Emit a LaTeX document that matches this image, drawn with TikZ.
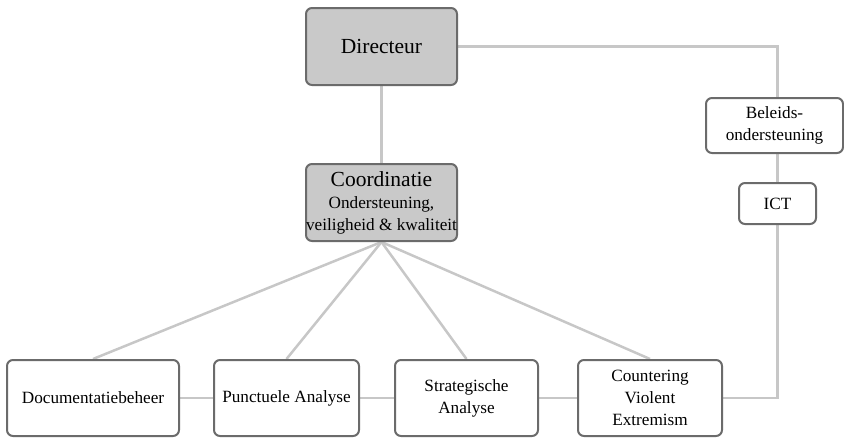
\documentclass[tikz,border=0pt]{standalone}
\usepackage{fontspec}
\setmainfont{Liberation Serif}
\usetikzlibrary{backgrounds}
\begin{document}
\begin{tikzpicture}[x=1pt,y=-1pt,
  box/.style={draw=black!58, line width=2pt, rounded corners=6pt, fill=white, align=center, inner sep=0pt, font=\fontsize{17.2}{22}\selectfont},
  gbox/.style={box, fill=black!21},
  big/.style={font=\fontsize{21.5}{24}\selectfont},
  link/.style={draw=black!22, line width=2.5pt}]
\useasboundingbox (0,0) rectangle (844,437);
% nodes
\node[gbox, big, minimum width=151pt, minimum height=77pt] (dir) at (381.5,46.5) {Directeur};
\node[gbox, minimum width=151pt, minimum height=77pt] (coord) at (381.5,202.5) {{\fontsize{21.5}{24}\selectfont Coordinatie}\\Ondersteuning,\\veiligheid \& kwaliteit};
\node[box, minimum width=137pt, minimum height=55pt] (bel) at (774.5,125.5) {Beleids-\\ondersteuning};
\node[box, minimum width=77pt, minimum height=41pt] (ict) at (777.5,203.5) {ICT};
\node[box, minimum width=172pt, minimum height=76pt] (doc) at (93,398) {Documentatiebeheer};
\node[box, minimum width=145pt, minimum height=76pt] (pun) at (286.5,398) {Punctuele Analyse};
\node[box, minimum width=143pt, minimum height=76pt] (str) at (466.5,398) {Strategische\\Analyse};
\node[box, minimum width=144pt, minimum height=76pt] (cve) at (650,398) {Countering\\Violent\\Extremism};
\coordinate (c1) at (777.5,46.5);
\coordinate (c2) at (777.5,398);
% connectors behind the boxes
\begin{pgfonlayer}{background}
\path[link] (dir.south) -- (coord.north);
\path[link] (dir.east) -- (c1) -- (bel.north -| c1);
\path[link] (bel.south -| ict.north) -- (ict.north);
\path[link] (ict.south) -- (c2) -- (cve.east);
\path[link] (coord.south) -- (doc.north);
\path[link] (coord.south) -- (pun.north);
\path[link] (coord.south) -- (str.north);
\path[link] (coord.south) -- (cve.north);
\path[link] (doc.east) -- (pun.west);
\path[link] (pun.east) -- (str.west);
\path[link] (str.east) -- (cve.west);
\end{pgfonlayer}
\end{tikzpicture}
\end{document}
